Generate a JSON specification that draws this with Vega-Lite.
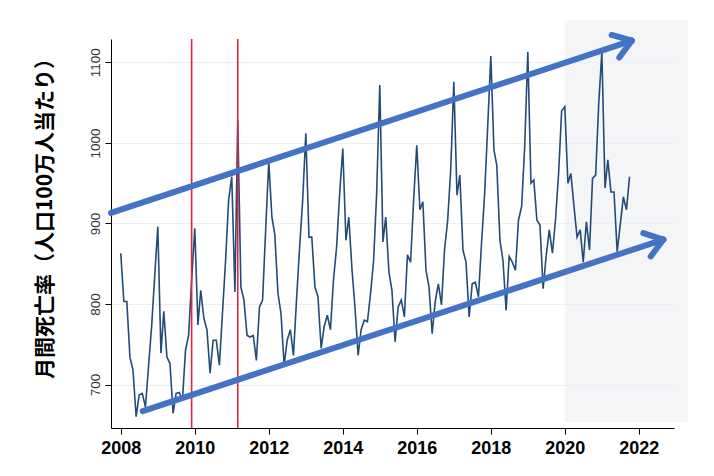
{
  "$schema": "https://vega.github.io/schema/vega-lite/v6.json",
  "width": 563,
  "height": 389,
  "autosize": "none",
  "padding": {"left": 111, "top": 39, "right": 40, "bottom": 48},
  "background": "white",
  "config": {
    "view": {"stroke": null},
    "axisX": {
      "grid": false, "labelFont": "Liberation Sans Narrow, Liberation Sans, sans-serif", "labelFontSize": 18, "labelFontWeight": "bold", "labelColor": "#000",
      "labelPadding": 5, "labelFlush": false, "labelOverlap": false,
      "tickSize": 6, "tickColor": "#000", "domainColor": "#000", "tickWidth": 1, "domainWidth": 1
    },
    "axisY": {
      "titleFont": "Noto Sans CJK JP", "titleFontSize": 21, "titleFontWeight": "bold", "titleColor": "#000",
      "titleAngle": 270, "titleX": -66, "titleY": 174, "titleAlign": "center", "titleBaseline": "middle",
      "labelFont": "Liberation Sans Narrow, Liberation Sans, sans-serif", "labelFontSize": 13.5, "labelColor": "#333",
      "labelAngle": 270, "labelAlign": "center", "labelBaseline": "bottom", "labelPadding": 3,
      "tickSize": 6, "tickColor": "#000", "domainColor": "#000",
      "grid": true, "gridColor": "#eceef0", "gridWidth": 1
    }
  },
  "datasets": {
    "deaths": [
      {"x":"2008-01-01","y":863},{"x":"2008-02-01","y":803},{"x":"2008-03-01","y":803},{"x":"2008-04-01","y":734},{"x":"2008-05-01","y":718},{"x":"2008-06-01","y":660},{"x":"2008-07-01","y":687},{"x":"2008-08-01","y":689},{"x":"2008-09-01","y":672},{"x":"2008-10-01","y":722},{"x":"2008-11-01","y":772},{"x":"2008-12-01","y":834},
      {"x":"2009-01-01","y":896},{"x":"2009-02-01","y":739},{"x":"2009-03-01","y":791},{"x":"2009-04-01","y":734},{"x":"2009-05-01","y":726},{"x":"2009-06-01","y":664},{"x":"2009-07-01","y":689},{"x":"2009-08-01","y":690},{"x":"2009-09-01","y":680},{"x":"2009-10-01","y":742},{"x":"2009-11-01","y":761},{"x":"2009-12-01","y":830},
      {"x":"2010-01-01","y":894},{"x":"2010-02-01","y":774},{"x":"2010-03-01","y":817},{"x":"2010-04-01","y":782},{"x":"2010-05-01","y":768},{"x":"2010-06-01","y":714},{"x":"2010-07-01","y":755},{"x":"2010-08-01","y":755},{"x":"2010-09-01","y":724},{"x":"2010-10-01","y":788},{"x":"2010-11-01","y":854},{"x":"2010-12-01","y":929},
      {"x":"2011-01-01","y":958},{"x":"2011-02-01","y":815},{"x":"2011-03-01","y":1029},{"x":"2011-04-01","y":821},{"x":"2011-05-01","y":805},{"x":"2011-06-01","y":761},{"x":"2011-07-01","y":759},{"x":"2011-08-01","y":761},{"x":"2011-09-01","y":730},{"x":"2011-10-01","y":796},{"x":"2011-11-01","y":805},{"x":"2011-12-01","y":890},
      {"x":"2012-01-01","y":977},{"x":"2012-02-01","y":908},{"x":"2012-03-01","y":886},{"x":"2012-04-01","y":813},{"x":"2012-05-01","y":788},{"x":"2012-06-01","y":724},{"x":"2012-07-01","y":755},{"x":"2012-08-01","y":768},{"x":"2012-09-01","y":736},{"x":"2012-10-01","y":805},{"x":"2012-11-01","y":871},{"x":"2012-12-01","y":929},
      {"x":"2013-01-01","y":1012},{"x":"2013-02-01","y":883},{"x":"2013-03-01","y":883},{"x":"2013-04-01","y":821},{"x":"2013-05-01","y":809},{"x":"2013-06-01","y":745},{"x":"2013-07-01","y":772},{"x":"2013-08-01","y":786},{"x":"2013-09-01","y":768},{"x":"2013-10-01","y":830},{"x":"2013-11-01","y":871},{"x":"2013-12-01","y":937},
      {"x":"2014-01-01","y":993},{"x":"2014-02-01","y":879},{"x":"2014-03-01","y":908},{"x":"2014-04-01","y":844},{"x":"2014-05-01","y":796},{"x":"2014-06-01","y":736},{"x":"2014-07-01","y":768},{"x":"2014-08-01","y":780},{"x":"2014-09-01","y":778},{"x":"2014-10-01","y":812},{"x":"2014-11-01","y":854},{"x":"2014-12-01","y":937},
      {"x":"2015-01-01","y":1072},{"x":"2015-02-01","y":877},{"x":"2015-03-01","y":908},{"x":"2015-04-01","y":840},{"x":"2015-05-01","y":817},{"x":"2015-06-01","y":753},{"x":"2015-07-01","y":796},{"x":"2015-08-01","y":805},{"x":"2015-09-01","y":784},{"x":"2015-10-01","y":861},{"x":"2015-11-01","y":852},{"x":"2015-12-01","y":929},
      {"x":"2016-01-01","y":997},{"x":"2016-02-01","y":917},{"x":"2016-03-01","y":927},{"x":"2016-04-01","y":842},{"x":"2016-05-01","y":821},{"x":"2016-06-01","y":763},{"x":"2016-07-01","y":803},{"x":"2016-08-01","y":825},{"x":"2016-09-01","y":799},{"x":"2016-10-01","y":867},{"x":"2016-11-01","y":904},{"x":"2016-12-01","y":966},
      {"x":"2017-01-01","y":1076},{"x":"2017-02-01","y":935},{"x":"2017-03-01","y":960},{"x":"2017-04-01","y":867},{"x":"2017-05-01","y":852},{"x":"2017-06-01","y":784},{"x":"2017-07-01","y":825},{"x":"2017-08-01","y":827},{"x":"2017-09-01","y":809},{"x":"2017-10-01","y":875},{"x":"2017-11-01","y":937},{"x":"2017-12-01","y":1020},
      {"x":"2018-01-01","y":1108},{"x":"2018-02-01","y":991},{"x":"2018-03-01","y":972},{"x":"2018-04-01","y":879},{"x":"2018-05-01","y":854},{"x":"2018-06-01","y":792},{"x":"2018-07-01","y":859},{"x":"2018-08-01","y":852},{"x":"2018-09-01","y":842},{"x":"2018-10-01","y":904},{"x":"2018-11-01","y":921},{"x":"2018-12-01","y":995},
      {"x":"2019-01-01","y":1113},{"x":"2019-02-01","y":950},{"x":"2019-03-01","y":954},{"x":"2019-04-01","y":904},{"x":"2019-05-01","y":898},{"x":"2019-06-01","y":819},{"x":"2019-07-01","y":859},{"x":"2019-08-01","y":892},{"x":"2019-09-01","y":863},{"x":"2019-10-01","y":904},{"x":"2019-11-01","y":962},{"x":"2019-12-01","y":1040},
      {"x":"2020-01-01","y":1045},{"x":"2020-02-01","y":950},{"x":"2020-03-01","y":962},{"x":"2020-04-01","y":921},{"x":"2020-05-01","y":883},{"x":"2020-06-01","y":892},{"x":"2020-07-01","y":852},{"x":"2020-08-01","y":902},{"x":"2020-09-01","y":867},{"x":"2020-10-01","y":956},{"x":"2020-11-01","y":960},{"x":"2020-12-01","y":1049},
      {"x":"2021-01-01","y":1113},{"x":"2021-02-01","y":944},{"x":"2021-03-01","y":979},{"x":"2021-04-01","y":939},{"x":"2021-05-01","y":939},{"x":"2021-06-01","y":865},{"x":"2021-07-01","y":898},{"x":"2021-08-01","y":933},{"x":"2021-09-01","y":917},{"x":"2021-10-01","y":958}
    ],
    "shade": [{"x":"2020-01-01","x2":"2023-05-01","y":653,"y2":1152}],
    "events": [{"x":"2009-12-01"},{"x":"2011-03-01"}],
    "arrows": [
      {"x":"2007-09-27","y":913,"x2":"2021-10-23","y2":1127},
      {"x":"2021-10-23","y":1127,"x2":"2021-06-22","y2":1106},
      {"x":"2021-10-23","y":1127,"x2":"2021-04-08","y2":1134},
      {"x":"2008-08-05","y":667,"x2":"2022-08-31","y2":880},
      {"x":"2022-08-31","y":880,"x2":"2022-04-28","y2":859},
      {"x":"2022-08-31","y":880,"x2":"2022-02-14","y2":888}
    ]
  },
  "layer": [
    {
      "data": {"name": "shade"},
      "mark": {"type": "rect", "fill": "#eceef1", "opacity": 0.6},
      "encoding": {
        "x": {"field": "x", "type": "temporal", "title": null, "scale": {"type": "utc", "domain": [{"year": 2007, "month": 9, "date": 27, "utc": true}, {"year": 2022, "month": 12, "date": 14, "utc": true}]}},
        "x2": {"field": "x2"},
        "y": {"field": "y", "type": "quantitative", "title": "月間死亡率（人口100万人当たり）", "scale": {"domain": [646, 1129], "nice": false, "zero": false}},
        "y2": {"field": "y2"}
      }
    },
    {
      "data": {"name": "deaths"},
      "mark": {"type": "line", "color": "#234b78", "strokeWidth": 1.6},
      "encoding": {
        "x": {
          "field": "x", "type": "temporal", "title": null,
          "scale": {"type": "utc", "domain": [{"year": 2007, "month": 9, "date": 27, "utc": true}, {"year": 2022, "month": 12, "date": 14, "utc": true}]},
          "axis": {
            "values": [{"year": 2008, "utc": true}, {"year": 2010, "utc": true}, {"year": 2012, "utc": true}, {"year": 2014, "utc": true}, {"year": 2016, "utc": true}, {"year": 2018, "utc": true}, {"year": 2020, "utc": true}, {"year": 2022, "utc": true}],
            "format": "%Y", "formatType": "utc"
          }
        },
        "y": {
          "field": "y", "type": "quantitative", "title": "月間死亡率（人口100万人当たり）",
          "scale": {"domain": [646, 1129], "nice": false, "zero": false},
          "axis": {"values": [700, 800, 900, 1000, 1100], "format": "d"}
        }
      }
    },
    {
      "data": {"name": "events"},
      "mark": {"type": "rule", "color": "#e3223c", "strokeWidth": 1.6},
      "encoding": {
        "x": {"field": "x", "type": "temporal", "title": null, "scale": {"type": "utc", "domain": [{"year": 2007, "month": 9, "date": 27, "utc": true}, {"year": 2022, "month": 12, "date": 14, "utc": true}]}}
      }
    },
    {
      "data": {"name": "arrows"},
      "mark": {"type": "rule", "color": "#4472c4", "strokeWidth": 6, "strokeCap": "round"},
      "encoding": {
        "x": {"field": "x", "type": "temporal", "title": null, "scale": {"type": "utc", "domain": [{"year": 2007, "month": 9, "date": 27, "utc": true}, {"year": 2022, "month": 12, "date": 14, "utc": true}]}},
        "x2": {"field": "x2"},
        "y": {"field": "y", "type": "quantitative", "title": "月間死亡率（人口100万人当たり）", "scale": {"domain": [646, 1129], "nice": false, "zero": false}},
        "y2": {"field": "y2"}
      }
    }
  ]
}
